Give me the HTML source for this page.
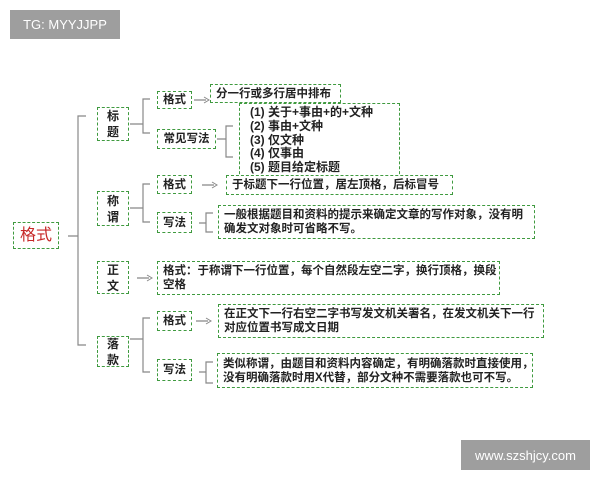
<!DOCTYPE html>
<html><head><meta charset="utf-8"><style>
body{margin:0;width:600px;height:480px;background:#fff;position:relative;overflow:hidden;font-family:"Liberation Sans","Noto Sans CJK SC",sans-serif;font-weight:bold;color:#222}
.b{position:absolute;border:1.5px dashed #3f9a3f;box-sizing:border-box;font-size:11.5px;line-height:14px;display:flex;align-items:center;padding:0 5px;white-space:nowrap}
.c{justify-content:center;text-align:center}
.wm{position:absolute;background:#9e9e9e;color:#fff;font-weight:normal;display:flex;align-items:center;justify-content:center}
svg{position:absolute;left:0;top:0}
</style></head><body>
<div class="wm" style="left:10px;top:10px;width:110px;height:29px;font-size:13px">TG: MYYJJPP</div>
<div class="wm" style="left:461px;top:440px;width:129px;height:30px;font-size:13px">www.szshjcy.com</div>
<svg width="600" height="480" fill="none" stroke="#888" stroke-width="1.2">
<path d="M68 236H78 M86 116H78V345H86"/>
<path d="M130 124H143 M150 99H143V133H150"/>
<path d="M130 208H143 M150 184H143V222H150"/>
<path d="M130 339H143 M150 318H143V372H150"/>
<path d="M217 139H226 M233 126H226V157H233"/>
<path d="M199 223H206 M213 213H206V232H213"/>
<path d="M199 372H206 M213 362H206V383H213"/>
<path d="M194 100H206 M202 185H214 M137 278H149 M196 321H208"/>
<path d="M204 97L209 100L204 103 M212 182L217 185L212 188 M147 275L152 278L147 281 M206 318L211 321L206 324" stroke-width="1"/>
</svg>
<div class="b c" style="left:13px;top:222px;width:46px;height:27px;font-size:16px;color:#c62828;font-weight:normal">格式</div>
<div class="b c" style="left:97px;top:107px;width:32px;height:34px;font-size:12px;line-height:16px">标<br>题</div>
<div class="b c" style="left:97px;top:191px;width:32px;height:35px;font-size:12px;line-height:16px">称<br>谓</div>
<div class="b c" style="left:97px;top:261px;width:32px;height:33px;font-size:12px;line-height:16px">正<br>文</div>
<div class="b c" style="left:97px;top:336px;width:32px;height:31px;font-size:12px;line-height:16px">落<br>款</div>
<div class="b c" style="left:157px;top:91px;width:35px;height:18px">格式</div>
<div class="b c" style="left:157px;top:129px;width:59px;height:20px">常见写法</div>
<div class="b c" style="left:157px;top:175px;width:35px;height:19px">格式</div>
<div class="b c" style="left:157px;top:212px;width:35px;height:21px">写法</div>
<div class="b c" style="left:157px;top:311px;width:35px;height:20px">格式</div>
<div class="b c" style="left:157px;top:359px;width:35px;height:22px">写法</div>
<div class="b" style="left:210px;top:84px;width:131px;height:19px">分一行或多行居中排布</div>
<div class="b" style="left:239px;top:103px;width:161px;height:76px;align-items:flex-start;padding-top:2px;padding-left:10px;line-height:13.8px;font-size:12px">(1) 关于+事由+的+文种<br>(2) 事由+文种<br>(3) 仅文种<br>(4) 仅事由<br>(5) 题目给定标题</div>
<div class="b" style="left:226px;top:175px;width:227px;height:20px;background:#fff">于标题下一行位置，居左顶格，后标冒号</div>
<div class="b" style="left:218px;top:205px;width:317px;height:34px">一般根据题目和资料的提示来确定文章的写作对象，没有明<br>确发文对象时可省略不写。</div>
<div class="b" style="left:157px;top:261px;width:343px;height:34px">格式：于称谓下一行位置，每个自然段左空二字，换行顶格，换段<br>空格</div>
<div class="b" style="left:218px;top:304px;width:326px;height:34px">在正文下一行右空二字书写发文机关署名，在发文机关下一行<br>对应位置书写成文日期</div>
<div class="b" style="left:217px;top:353px;width:316px;height:35px">类似称谓，由题目和资料内容确定，有明确落款时直接使用，<br>没有明确落款时用X代替，部分文种不需要落款也可不写。</div>
</body></html>
